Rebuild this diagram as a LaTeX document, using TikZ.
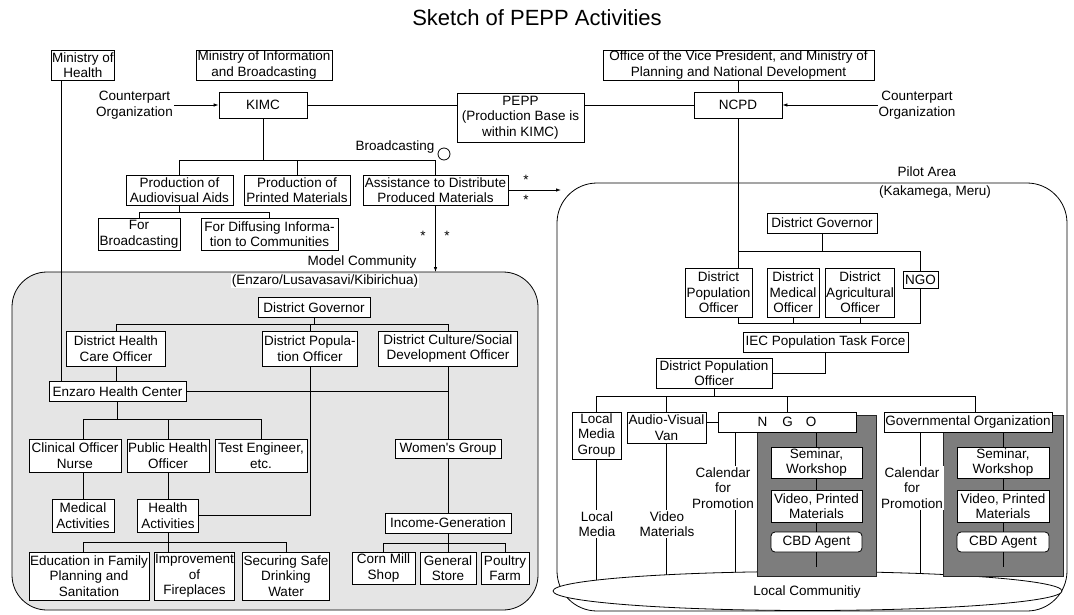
\documentclass[tikz,border=0pt]{standalone}
\usepackage{fontspec}
\setmainfont{Liberation Sans}
\usetikzlibrary{arrows.meta,shapes.geometric}
\pgfdeclarelayer{bg}
\pgfdeclarelayer{mid}
\pgfsetlayers{bg,mid,main}
\definecolor{mcgray}{RGB}{229,229,229}
\definecolor{pgray}{RGB}{125,125,125}
\newcommand\fs{\fontsize{13.5}{15.6}\selectfont}
\tikzset{
  wh/.style 2 args={minimum width=#1pt, minimum height=#2pt},
  box/.style={draw, fill=white, align=center, inner xsep=1pt, inner ysep=1pt, font=\fs, line width=0.8pt},
  rbox/.style={box, rounded corners=4pt},
  lbl/.style={align=center, inner sep=1pt, font=\fs},
  wlbl/.style={lbl, fill=white},
  ln/.style={line width=0.8pt},
  arr/.style={ln, -{Latex[length=5pt,width=3.5pt]}},
  panel/.style={draw=black!85, fill=pgray, line width=0.8pt, inner sep=0pt},
  star/.style={font=\fs, inner sep=0pt, anchor=base},
}
\begin{document}
\begin{tikzpicture}[x=1pt,y=-1pt]
\useasboundingbox (0,0) rectangle (1074,614);
% helper coordinates
\coordinate (y160) at (0,160);
\coordinate (y212) at (0,212);
\coordinate (y251) at (0,251);
\coordinate (y323) at (0,323);
\coordinate (y324) at (0,324);
\coordinate (y396) at (0,396);
\coordinate (y419) at (0,419);
\coordinate (y542) at (0,542);
\coordinate (y543) at (0,543);
\coordinate (y567) at (0,567);
\coordinate (x61) at (61,0);
\coordinate (x735) at (735,0);
\coordinate (x920) at (920,0);
\coordinate (x975) at (975,0);
\coordinate (mctop) at (435.5,272);
\coordinate (patip) at (561,190);

% ---------- top ----------
\node[font=\fontsize{22}{26}\selectfont] (title) at (537,18) {Sketch of PEPP Activities};
\node[box, wh={62}{30}] (moh) at (83,65) {Ministry of\\Health};
\node[box, wh={136}{30}] (mib) at (264,65) {Ministry of Information\\and Broadcasting};
\node[box, wh={271}{30}] (ovp) at (738.5,65) {Office of the Vice President, and Ministry of\\Planning and National Development};
\node[box, wh={88}{26}] (kimc) at (263,105) {KIMC};
\node[box, wh={127}{49}] (pepp) at (520.5,117.5) {PEPP\\(Production Base is\\within KIMC)};
\node[box, wh={88}{26}] (ncpd) at (738,105) {NCPD};
\node[lbl] (cpl) at (134.5,105) {Counterpart\\Organization};
\node[lbl] (cpr) at (917,105) {Counterpart\\Organization};
\node[lbl] (bc) at (395,147) {Broadcasting};
\node[draw, circle, ln, minimum size=12pt, inner sep=0pt] (bcc) at (444,154) {};
\node[box, wh={107}{30}] (paa) at (179.5,190) {Production of\\Audiovisual Aids};
\node[box, wh={106}{30}] (ppm) at (297,190) {Production of\\Printed Materials};
\node[box, wh={145}{30}] (adp) at (435.5,190) {Assistance to Distribute\\Produced Materials};
\node[box, wh={82}{32}] (fb) at (139,234) {For\\Broadcasting};
\node[box, wh={137}{32}] (fd) at (269.5,234) {For Diffusing Informa-\\tion to Communities};
\node[star] (s1) at (423,240) {*};
\node[star] (s2) at (447,240) {*};
\node[star] (s3) at (526,184) {*};
\node[star] (s4) at (526,204) {*};
\node[lbl] (mct) at (362,262) {Model Community};
\node[wlbl] (mcs) at (325,281) {(Enzaro/Lusavasavi/Kibirichua)};

% ---------- model community ----------
\node[box, wh={112}{20}] (mgov) at (314,307.5) {District Governor};
\node[box, wh={99}{35}] (dhco) at (116,348.5) {District Health\\Care Officer};
\node[box, wh={95}{35}] (mdpo) at (310,348.5) {District Popula-\\tion Officer};
\node[box, wh={139}{35}] (dcsdo) at (448,348.5) {District Culture/Social\\Development Officer};
\node[box, wh={137}{20}] (enz) at (117.5,391.5) {Enzaro Health Center};
\node[box, wh={92}{33}] (con) at (75,455.5) {Clinical Officer\\Nurse};
\node[box, wh={82}{33}] (pho) at (168,455.5) {Public Health\\Officer};
\node[box, wh={92}{33}] (te) at (261,455.5) {Test Engineer,\\etc.};
\node[box, wh={62}{33}] (med) at (83,515.5) {Medical\\Activities};
\node[box, wh={61}{33}] (hea) at (168,515.5) {Health\\Activities};
\node[box, wh={118}{48}] (edu) at (89,576) {Education in Family\\Planning and\\Sanitation};
\node[box, wh={79}{48}] (imp) at (194.5,576) {Improvement\\of\\Fireplaces};
\node[box, wh={86}{48}] (sec) at (286,576) {Securing Safe\\Drinking\\Water};
\node[box, wh={106}{19}] (wg) at (448,449) {Women\textquotesingle s Group};
\node[box, wh={126}{20}] (ig) at (448,523) {Income-Generation};
\node[box, wh={63}{32}] (cms) at (383.5,568) {Corn Mill\\Shop};
\node[box, wh={56}{32}] (gs) at (448,568) {General\\Store};
\node[box, wh={48}{32}] (pf) at (505,568) {Poultry\\Farm};

% ---------- pilot area ----------
\node[lbl] (pat) at (927,172) {Pilot Area};
\node[lbl] (pak) at (935,192) {(Kakamega, Meru)};
\node[box, wh={110}{20}] (gov2) at (822,223) {District Governor};
\node[box, wh={67}{49}] (dpo1) at (718.5,292.5) {District\\Population\\Officer};
\node[box, wh={52}{49}] (dmo) at (793,292.5) {District\\Medical\\Officer};
\node[box, wh={66}{49}] (dao) at (860,292.5) {District\\Agricultural\\Officer};
\node[box, wh={35}{17}] (ngo1) at (920.5,280) {NGO};
\node[box, wh={165}{20}] (iec) at (825.5,342) {IEC Population Task Force};
\node[box, wh={116}{30}] (dpo2) at (714,373) {District Population\\Officer};
\node[box, wh={49}{47}] (lmg) at (596.5,435.5) {Local\\Media\\Group};
\node[box, wh={79}{31}] (avv) at (666.5,427.5) {Audio-Visual\\Van};
\node[box, wh={138}{20}] (ngo2) at (787,422) {N\hspace{15pt}G\hspace{13pt}O};
\node[box, wh={168}{20}] (gov) at (968,422) {Governmental Organization};
\node[box, wh={91}{31}] (sem1) at (816.5,462.5) {Seminar,\\Workshop};
\node[box, wh={91}{32}] (vid1) at (816.5,506) {Video, Printed\\Materials};
\node[rbox, wh={91}{20}] (cbd1) at (816.5,542) {CBD Agent};
\node[box, wh={92}{31}] (sem2) at (1003,462.5) {Seminar,\\Workshop};
\node[box, wh={92}{32}] (vid2) at (1003,506) {Video, Printed\\Materials};
\node[rbox, wh={92}{20}] (cbd2) at (1003,542) {CBD Agent};
\node[wlbl] (cal1) at (723,488) {Calendar\\for\\Promotion};
\node[wlbl] (cal2) at (912,488) {Calendar\\for\\Promotion};
\node[wlbl] (lm) at (597,524) {Local\\Media};
\node[wlbl] (vm) at (667,524) {Video\\Materials};
\node[lbl] (lct) at (807,592) {Local Communitiy};

% lines inside the dark panels
\draw[ln] (sem1.north |- ngo2.south) -- (sem1.north);
\draw[ln] (sem1.south) -- (vid1.north);
\draw[ln] (vid1.south) -- (cbd1.north);
\draw[ln] (cbd1.south) -- (cbd1.south |- y567);
\draw[ln] (sem2.north |- gov.south) -- (sem2.north);
\draw[ln] (sem2.south) -- (vid2.north);
\draw[ln] (vid2.south) -- (cbd2.north);
\draw[ln] (cbd2.south) -- (cbd2.south |- y567);

\begin{pgfonlayer}{mid}
\node[draw, ellipse, ln, fill=white, inner sep=0pt, wh={509}{39}] (lc) at (807.5,591) {};
\node[panel, wh={119}{161}] (np) at (816.5,495.5) {};
\node[panel, wh={120}{161}] (gp) at (1003,495.5) {};
\end{pgfonlayer}

\begin{pgfonlayer}{bg}
\draw[ln, fill=mcgray, rounded corners=35pt] (12,272) rectangle (538,610);
\draw[ln, rounded corners=40pt] (557,183) rectangle (1067,611);
% top connectors
\draw[arr] (cpl.east) -- (kimc.west);
\draw[arr] (cpr.west) -- (ncpd.east);
\draw[ln] (kimc.east) -- (kimc.east -| pepp.west);
\draw[ln] (ncpd.west) -- (ncpd.west -| pepp.east);
\draw[ln] (ncpd.north |- ovp.south) -- (ncpd.north);
\draw[ln] (kimc.south) -- (kimc.south |- y160);
\draw[ln] (paa.north) |- (adp.north |- y160) -- (adp.north);
\draw[ln] (ppm.north) -- (ppm.north |- y160);
\draw[ln] (paa.south) -- (paa.south |- y212);
\draw[ln] (fb.north) |- (fd.north |- y212) -- (fd.north);
\draw[arr] (adp.south) -- (mctop);
\draw[arr] (adp.east) -- (patip);
\draw[ln] (x61 |- moh.south) -- (x61 |- enz.north);
% model community
\draw[ln] (mgov.south) -- (mgov.south |- y324);
\draw[ln] (dhco.north) |- (dcsdo.north |- y324) -- (dcsdo.north);
\draw[ln] (mdpo.north) -- (mdpo.north |- y324);
\draw[ln] (dhco.south) -- (dhco.south |- enz.north);
\draw[ln] (enz.east) -- (enz.east -| dcsdo.south);
\draw[ln] (dcsdo.south) -- (wg.north);
\draw[ln] (mdpo.south) |- (hea.east);
\draw[ln] (enz.south) -- (enz.south |- y419);
\draw[ln] (med.north |- con.north) |- (te.north |- y419) -- (te.north);
\draw[ln] (pho.north) -- (pho.north |- y419);
\draw[ln] (med.north |- con.south) -- (med.north);
\draw[ln] (pho.south) -- (hea.north);
\draw[ln] (hea.south) -- (hea.south |- imp.north);
\draw[ln] (med.north |- edu.north) |- (sec.north |- y542) -- (sec.north);
\draw[ln] (wg.south) -- (ig.north);
\draw[ln] (ig.south) -- (ig.south |- y543);
\draw[ln] (cms.north) |- (pf.north |- y543) -- (pf.north);
\draw[ln] (gs.north) -- (gs.north |- y543);
% pilot area
\draw[ln] (ncpd.south) -- (ncpd.south |- dpo1.north);
\draw[ln] (ncpd.south |- y251) -- (ngo1.north |- y251) -- (ngo1.north);
\draw[ln] (gov2.south) -- (gov2.south |- y251);
\draw[ln] (ncpd.south |- dpo1.south) -- (ncpd.south |- y323) -- (ngo1.south |- y323) -- (ngo1.south);
\draw[ln] (dmo.south) -- (dmo.south |- y323);
\draw[ln] (dao.south) -- (dao.south |- y323);
\draw[ln] (iec.south) |- (dpo2.east);
\draw[ln] (dpo2.south) -- (dpo2.south |- y396);
\draw[ln] (lmg.north) |- (x975 |- y396) -- (x975 |- gov.north);
\draw[ln] (avv.north) -- (avv.north |- y396);
\draw[ln] (ngo2.north) -- (ngo2.north |- y396);
\draw[ln] (avv.east |- ngo2.west) -- (ngo2.west);
\draw[ln] (lmg.south) -- (lmg.south |- lc.center);
\draw[ln] (avv.south) -- (avv.south |- lc.center);
\draw[ln] (x735 |- ngo2.south) -- (x735 |- lc.center);
\draw[ln] (x920 |- gov.south) -- (x920 |- lc.center);
\end{pgfonlayer}
\end{tikzpicture}
\end{document}
